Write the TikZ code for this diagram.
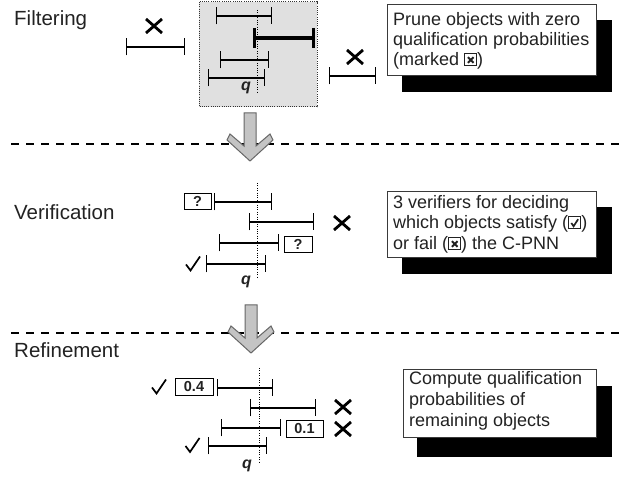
\documentclass[tikz,border=0pt]{standalone}
\usepackage{fontspec}
\setmainfont{Liberation Sans}
\usetikzlibrary{arrows.meta}
\definecolor{txt}{HTML}{222222}
\definecolor{boxline}{HTML}{3A3A3A}
\definecolor{greybox}{HTML}{E0E0E0}
\definecolor{arrowfill}{HTML}{C4C4C4}
\definecolor{arrowline}{HTML}{666666}
\newcommand\ballotx{\tikz[x=1pt,y=1pt,baseline=0pt]{\draw[line width=1pt,draw=txt] (0,0) rectangle (12,12);\draw[line width=2pt,draw=txt] (3.2,3.2) -- (8.8,8.8) (3.2,8.8) -- (8.8,3.2);}}
\newcommand\ballotchk{\tikz[x=1pt,y=1pt,baseline=0pt]{\draw[line width=1pt,draw=txt] (0,0) rectangle (12,12);\draw[line width=1.7pt,draw=txt] (2.6,6) -- (4.8,2.7) -- (9.4,9.8);}}
\begin{document}
\begin{tikzpicture}[x=1pt,y=-1pt,
  iv/.style={line width=1.1pt,{Bar[width=17pt,line width=1.1pt]}-{Bar[width=17pt,line width=1.1pt]}},
  ivthick/.style={line width=3.2pt,{Bar[width=20pt,line width=3.2pt]}-{Bar[width=20pt,line width=3.2pt]}},
  qline/.style={line width=1pt,dash pattern=on 1pt off 1.4pt},
  sepline/.style={line width=1.2pt,dash pattern=on 7.5pt off 7.5pt},
  lab/.style={anchor=base west,inner sep=0pt,text=txt,font=\fontsize{20.5}{24}\selectfont},
  boxtxt/.style={anchor=base west,inner sep=0pt,text=txt,font=\fontsize{18}{20}\selectfont},
  qlab/.style={anchor=base,inner sep=0pt,text=txt,font=\fontsize{16}{16}\selectfont\bfseries\itshape},
  tagbox/.style={draw=black,line width=0.9pt,fill=white,inner sep=0pt,text=txt,font=\fontsize{14.5}{14.5}\selectfont\bfseries},
  infobox/.style={draw=boxline,line width=1pt,fill=white},
  shadowbox/.style={fill=black},
  bigarrow/.style={fill=arrowfill,draw=arrowline,line width=1pt,line join=miter},
  xmk/.pic={\draw[line width=2.8pt] (-8,-7) -- (8,7) (-8,7) -- (8,-7);},
  ckmk/.pic={\draw[line width=1.7pt,line join=miter] (-7,1) -- (-2.5,7) -- (7,-7);}
]
\useasboundingbox (0,0) rectangle (625,481);

% separators
\coordinate (s1a) at (11,144); \coordinate (s1b) at (625,144);
\coordinate (s2a) at (11,333); \coordinate (s2b) at (625,333);
\draw[sepline] (s1a) -- (s1b);
\draw[sepline] (s2a) -- (s2b);

% stage labels
\node[lab] (lf) at (14,26) {Filtering};
\node[lab] (lv) at (14,220) {Verification};
\node[lab] (lr) at (14,358) {Refinement};

% ---------- Filtering ----------
\draw[fill=greybox,draw=black!80,line width=1pt,dash pattern=on 1pt off 1.2pt] (199,2) rectangle (317,107);
\draw[qline] (257,10) -- (257,93);
\draw[iv] (216,16) -- (272,16);
\draw[ivthick] (253,38) -- (315,38);
\draw[iv] (220,60) -- (269,60);
\draw[iv] (208,78) -- (265,78);
\node[qlab] (qf) at (246,91) {q};
\draw[iv] (126,47) -- (185,47);
\pic at (154,26) {xmk};
\draw[iv] (329,76) -- (376,76);
\pic at (355,57) {xmk};

% info box 1
\fill[shadowbox] (402,20) rectangle (612,92);
\draw[infobox] (387,5) rectangle (596,76);
\node[boxtxt] (b1a) at (393,26) {Prune objects with zero};
\node[boxtxt] (b1b) at (393,46) {qualification probabilities};
\node[boxtxt] (b1c) at (393,66) {(marked \ballotx)};

% arrow 1
\draw[bigarrow] (244,113) -- (256,113) -- (256,146) -- (270,134) -- (273,140) -- (250,161)
  -- (227,140) -- (230,134) -- (244,146) -- cycle;

% ---------- Verification ----------
\draw[qline] (257,183) -- (257,277);
\draw[iv] (214,202) -- (272,202);
\node[tagbox,minimum width=27pt,minimum height=16pt] (v1) at (197.5,201) {?};
\draw[iv] (249,222) -- (314,222);
\pic at (342,223) {xmk};
\draw[iv] (219,243) -- (279,243);
\node[tagbox,minimum width=28pt,minimum height=16pt] (v2) at (298,244) {?};
\draw[iv] (206,264) -- (266,264);
\pic at (193,263.5) {ckmk};
\node[qlab] (qv) at (246,285) {q};

% info box 2
\fill[shadowbox] (402,207) rectangle (612,274);
\draw[infobox] (387,192) rectangle (596,258);
\node[boxtxt] (b2a) at (393,209) {3 verifiers for deciding};
\node[boxtxt] (b2b) at (393,229) {which objects satisfy (\ballotchk)};
\node[boxtxt] (b2c) at (393,250) {or fail (\ballotx) the C-PNN};

% arrow 2
\draw[bigarrow] (245,305) -- (257,305) -- (257,338) -- (271,326) -- (274,332) -- (251,353)
  -- (228,332) -- (231,326) -- (245,338) -- cycle;

% ---------- Refinement ----------
\draw[qline] (259,368) -- (259,463);
\draw[iv] (217,388) -- (273,388);
\node[tagbox,minimum width=38pt,minimum height=17pt] (r1) at (194,386.5) {0.4};
\pic at (159,386.5) {ckmk};
\draw[iv] (250,408) -- (316,408);
\pic at (343,407) {xmk};
\draw[iv] (221,428) -- (281,428);
\node[tagbox,minimum width=37pt,minimum height=17pt] (r2) at (304.5,428.5) {0.1};
\pic at (343,429) {xmk};
\draw[iv] (208,446) -- (267,446);
\pic at (192.5,445) {ckmk};
\node[qlab] (qr) at (247,469) {q};

% info box 3
\fill[shadowbox] (417,386) rectangle (612,457);
\draw[infobox] (403,370) rectangle (596,438);
\node[boxtxt] (b3a) at (409,385) {Compute qualification};
\node[boxtxt] (b3b) at (409,406) {probabilities of};
\node[boxtxt] (b3c) at (409,427) {remaining objects};
\end{tikzpicture}
\end{document}
